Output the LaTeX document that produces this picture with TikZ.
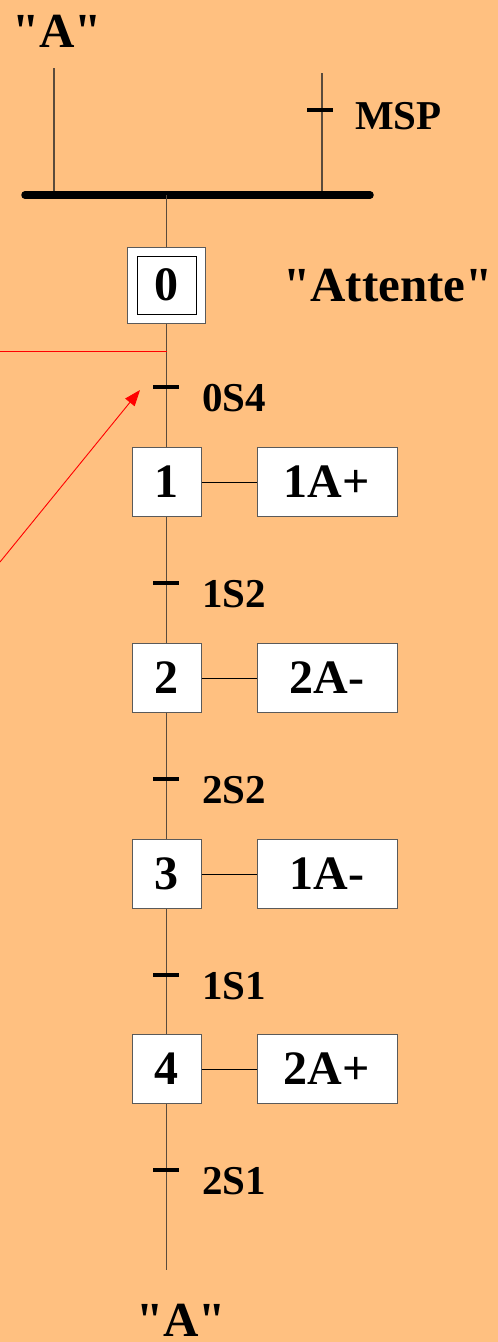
\documentclass[tikz,border=0pt]{standalone}
\usepackage{fontspec}
\setmainfont{Liberation Serif}
\newfontfamily\qfont{Liberation Serif}[Ligatures=TeXOff]
\usetikzlibrary{arrows.meta}
\definecolor{bgc}{RGB}{255,192,128}
\definecolor{linec}{RGB}{90,75,60}
\definecolor{boxc}{RGB}{90,90,90}
\tikzset{
  lab/.style={inner sep=0pt, font=\fontsize{41}{41}\selectfont\bfseries},
  big/.style={inner sep=0pt, font=\qfont\fontsize{49}{49}\selectfont\bfseries},
  stepbox/.style={draw=boxc, line width=1pt, fill=white, minimum width=69pt, minimum height=69pt, inner sep=0pt, font=\fontsize{48}{48}\selectfont\bfseries},
  actbox/.style={draw=boxc, line width=1pt, fill=white, minimum width=140pt, minimum height=69pt, inner sep=0pt, font=\fontsize{48}{48}\selectfont\bfseries},
  flow/.style={draw=linec, line width=1.3pt},
  tick/.style={draw=black, line width=4pt},
  link/.style={draw=black, line width=0.9pt},
}
\begin{document}
\begin{tikzpicture}[x=1pt,y=-1pt]
\fill[bgc] (0,0) rectangle (498,1342);
\useasboundingbox (0,0) rectangle (498,1342);
% top
\node[big, anchor=base] (topA) at (57,47) {"A"};
\coordinate (lt) at (54,68);
\coordinate (rt) at (322,73);
\coordinate (barL) at (25,195);
\coordinate (barR) at (370,195);
\coordinate (barC) at (166.5,195);
\coordinate (lb) at (54,195);
\coordinate (rb) at (322,195);
\draw[flow] (lt) -- (lb);
\draw[flow] (rt) -- (rb);
\coordinate (tMSPa) at (307,110);
\coordinate (tMSPb) at (333,110);
\draw[tick] (tMSPa) -- (tMSPb);
\node[lab, anchor=base west] (msp) at (355,129) {MSP};
\draw[line width=7.5pt, line cap=round] (barL) -- (barR);
% step 0
\node[draw=boxc, line width=1pt, fill=white, minimum width=78pt, minimum height=76pt] (s0o) at (166.5,285) {};
\node[draw=black, line width=1pt, minimum width=59pt, minimum height=58pt, inner sep=0pt, font=\fontsize{48}{48}\selectfont\bfseries] (s0) at (166.5,285) {0};
\node[big, anchor=base] (att) at (388,301) {"Attente"};
\draw[flow] (barC) -- (s0o.north);
% steps
\node[stepbox] (s1) at (166.5,482) {1};
\node[stepbox] (s2) at (166.5,678) {2};
\node[stepbox] (s3) at (166.5,874) {3};
\node[stepbox] (s4) at (166.5,1069) {4};
\node[actbox] (a1) at (327,482) {1A+};
\node[actbox] (a2) at (327,678) {2A-};
\node[actbox] (a3) at (327,874) {1A-};
\node[actbox] (a4) at (327,1069) {2A+};
\draw[link] (s1) -- (a1);
\draw[link] (s2) -- (a2);
\draw[link] (s3) -- (a3);
\draw[link] (s4) -- (a4);
\coordinate (endA) at (166.5,1270);
\draw[flow] (s0o.south) -- (s1.north);
\draw[flow] (s1.south) -- (s2.north);
\draw[flow] (s2.south) -- (s3.north);
\draw[flow] (s3.south) -- (s4.north);
\draw[flow] (s4.south) -- (endA);
% transitions
\foreach \y/\t/\n in {387/0S4/t0, 583/1S2/t1, 779/2S2/t2, 975/1S1/t3, 1170/2S1/t4}{
  \coordinate (\n a) at (153,\y);
  \coordinate (\n b) at (179,\y);
  \draw[tick] (\n a) -- (\n b);
  \node[lab, anchor=base west] (\n l) at (202,\y+24) {\t};
}
\node[big, anchor=base] (botA) at (181,1336) {"A"};
% red
\coordinate (rh0) at (0,351);
\coordinate (rh1) at (166.5,351);
\draw[red, line width=0.9pt] (rh0) -- (rh1);
\coordinate (ra0) at (0,562);
\coordinate (ra1) at (140,390);
\draw[red, line width=0.9pt, -{Triangle[length=16pt,width=12pt]}] (ra0) -- (ra1);
\end{tikzpicture}
\end{document}
